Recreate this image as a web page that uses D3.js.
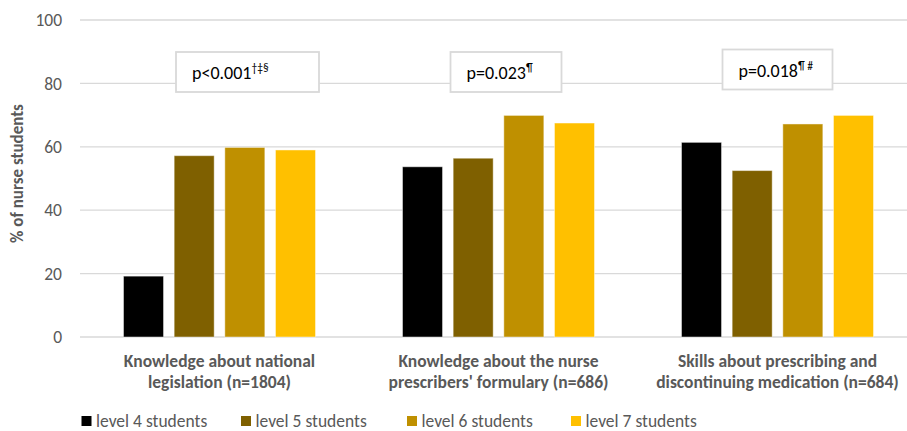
<!DOCTYPE html>
<html>
<head>
<meta charset="utf-8">
<script src="https://cdn.jsdelivr.net/npm/d3@7"></script>
<style>
  html, body { margin: 0; padding: 0; background: #fff; }
  svg { display: block; }
  text { font-family: Carlito, Calibri, Lato, "Noto Sans", sans-serif; }
</style>
</head>
<body>
<svg id="chart" width="907" height="431"></svg>
<script>
// ---- data ----
const categories = [
  ["Knowledge about national", "legislation (n=1804)"],
  ["Knowledge about the nurse", "prescribers' formulary (n=686)"],
  ["Skills about prescribing and", "discontinuing medication (n=684)"]
];
const seriesNames = ["level 4 students", "level 5 students", "level 6 students", "level 7 students"];
const level4 = [19.2, 53.7, 61.4];
const level5 = [57.2, 56.4, 52.5];
const level6 = [59.8, 69.9, 67.2];
const level7 = [59.0, 67.5, 69.9];
const yTicks = [0, 20, 40, 60, 80, 100];
const pMain = ["p<0.001", "p=0.023", "p=0.018"];
const pSup = ["†‡§", "¶", "¶ #"];
const axisTitle = "% of nurse students";

// ---- styles / layout ----
const colors = ["#000000", "#7F6000", "#BF9000", "#FFC000"];
const seriesValues = [level4, level5, level6, level7];
const textColor = "#595959";
const gridColor = "#d9d9d9";
const annLayout = [ {dx: 28, w: 143, top: 52, h: 40}, {dx: 7.5, w: 111, top: 52, h: 40}, {dx: 0, w: 110, top: 49.5, h: 40} ];

const svg = d3.select("#chart");
const plotLeft = 80, plotRight = 917, plotTop = 20, plotBottom = 337;

const x0 = d3.scaleBand().domain(d3.range(categories.length)).range([plotLeft, plotRight]).padding(0);
const x1 = d3.scaleBand().domain(d3.range(seriesNames.length))
  .range([43.5, x0.bandwidth() - 43.5]).paddingInner(0.21).paddingOuter(0);
const y = d3.scaleLinear().domain([0, 100]).range([plotBottom, plotTop]);

// gridlines
svg.append("g").selectAll("line").data(yTicks).join("line")
  .attr("x1", plotLeft).attr("x2", plotRight)
  .attr("y1", d => y(d)).attr("y2", d => y(d))
  .attr("stroke", gridColor).attr("stroke-width", 1.3);

// y axis labels
const yAxis = d3.axisLeft(y).tickValues(yTicks).tickSize(0).tickPadding(0);
const gy = svg.append("g").attr("transform", `translate(62,0)`).call(yAxis);
gy.select(".domain").remove();
gy.selectAll("text").attr("fill", textColor).attr("font-size", 17.5)
  .style("font-family", "Carlito, Calibri, Lato, sans-serif");

// y title
svg.append("text")
  .attr("transform", `translate(23,${(plotTop + plotBottom) / 2 - 5}) rotate(-90)`)
  .attr("text-anchor", "middle")
  .attr("font-size", 17).attr("font-weight", "bold").attr("fill", textColor)
  .text(axisTitle);

// bars
const groups = svg.append("g").selectAll("g").data(categories).join("g")
  .attr("transform", (d, i) => `translate(${x0(i)},0)`);
groups.selectAll("rect")
  .data((d, i) => seriesValues.map((s, j) => ({ s: j, v: s[i] })))
  .join("rect")
  .attr("x", d => x1(d.s))
  .attr("width", x1.bandwidth())
  .attr("y", d => y(d.v))
  .attr("height", d => y(0) - y(d.v))
  .attr("fill", d => colors[d.s])
  .attr("stroke", "#ffffff").attr("stroke-opacity", 0.45).attr("stroke-width", 1);

// category labels
const xAxis = svg.append("g");
categories.forEach((lines, i) => {
  const t = xAxis.append("text")
    .attr("x", x0(i) + x0.bandwidth() / 2).attr("y", 366.5)
    .attr("text-anchor", "middle")
    .attr("font-size", 17.5).attr("font-weight", "bold").attr("fill", textColor);
  lines.forEach((ln, k) => {
    t.append("tspan").attr("x", x0(i) + x0.bandwidth() / 2).attr("dy", k === 0 ? 0 : 21).text(ln);
  });
});

// annotation boxes
pMain.forEach((p, i) => {
  const L = annLayout[i];
  const cx = x0(i) + x0.bandwidth() / 2 + L.dx;
  svg.append("rect")
    .attr("x", cx - L.w / 2).attr("y", L.top).attr("width", L.w).attr("height", L.h)
    .attr("fill", "#fff").attr("stroke", gridColor).attr("stroke-width", 1.8);
  const t = svg.append("text")
    .attr("x", cx - L.w / 2 + 16).attr("y", L.top + 27)
    .attr("font-size", 18).attr("fill", "#000");
  t.append("tspan").text(p);
  t.append("tspan").attr("dy", -7).attr("font-size", 11.5).text(pSup[i]);
});

// legend
const legendX = [81.5, 241, 407, 571];
const lg = svg.append("g").selectAll("g").data(seriesNames).join("g")
  .attr("transform", (d, i) => `translate(${legendX[i]},416)`);
lg.append("rect").attr("width", 10).attr("height", 10).attr("fill", (d, i) => colors[i]);
lg.append("text").attr("x", 14.5).attr("y", 10.5)
  .attr("font-size", 17.5).attr("fill", textColor).text(d => d);
</script>
</body>
</html>
